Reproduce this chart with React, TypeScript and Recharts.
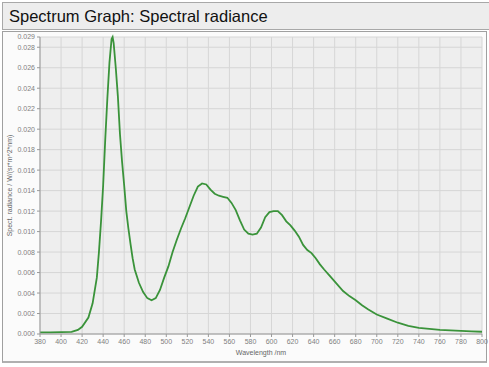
import React from 'react';
import { LineChart, Line, XAxis, YAxis, CartesianGrid } from 'recharts';

const wavelengths = [
  380, 390, 400, 410, 416, 420, 426, 430, 434, 436, 438, 440, 442, 444, 446, 448, 449, 450, 452, 454,
  456, 458, 460, 462, 464, 466, 468, 470, 474, 478, 482, 486, 490, 494, 498, 502, 506, 510, 514, 518,
  522, 526, 530, 534, 538, 542, 546, 550, 554, 558, 562, 566, 570, 574, 578, 582, 586, 590, 594, 598,
  602, 606, 610, 614, 618, 622, 626, 630, 634, 638, 642, 646, 650, 656, 662, 668, 674, 680, 686, 692,
  700, 710, 720, 730, 740, 750, 760, 770, 780, 790, 800,
];

const radiance = [
  0.00015, 0.00016, 0.00018, 0.0002, 0.0004, 0.0007, 0.0016, 0.003, 0.0055, 0.008, 0.011, 0.0145, 0.019, 0.023, 0.0265, 0.0288, 0.029, 0.0284, 0.026, 0.0232,
  0.0195, 0.0168, 0.0145, 0.012, 0.0103, 0.0088, 0.0074, 0.0063, 0.005, 0.0041, 0.0035, 0.0033, 0.0035, 0.0043, 0.0055, 0.0066, 0.008, 0.0092, 0.0103, 0.0113,
  0.0124, 0.0135, 0.0144, 0.0147, 0.0146, 0.0141, 0.0137, 0.0135, 0.0134, 0.0133, 0.0128, 0.0121, 0.0111, 0.0102, 0.0098, 0.0097, 0.0098, 0.0104, 0.0114, 0.0119,
  0.012, 0.012, 0.0116, 0.011, 0.0106, 0.0101, 0.0095, 0.0087, 0.0082, 0.0079, 0.0074, 0.0068, 0.0063, 0.0056, 0.0049, 0.0042, 0.0037, 0.0033, 0.0028, 0.0024,
  0.0019, 0.0015, 0.0011, 0.0008, 0.0006, 0.0005, 0.0004, 0.00035, 0.0003, 0.00025, 0.00022,
];

const xTicks = [380, 400, 420, 440, 460, 480, 500, 520, 540, 560, 580, 600, 620, 640, 660, 680, 700, 720, 740, 760, 780, 800];
const yTicks = [0, 0.002, 0.004, 0.006, 0.008, 0.01, 0.012, 0.014, 0.016, 0.018, 0.02, 0.022, 0.024, 0.026, 0.028, 0.029];

const data = wavelengths.map((w, i) => ({ w, v: radiance[i] }));

const font = '"Liberation Sans", Arial, sans-serif';
const tickStyle = { fontSize: 7, fill: '#808080', fontFamily: font };

export default function App() {
  return (
    <div style={{ position: 'absolute', left: 0, top: 0, width: 489, height: 367, background: '#fff', fontFamily: font }}>
      <div
        style={{
          position: 'absolute', left: 2, top: 2, width: 483, height: 26,
          background: '#ededed', border: '1px solid #a8a8a8',
          fontSize: 16.5, lineHeight: '26px', paddingLeft: 6, boxSizing: 'content-box', color: '#111',
        }}
      >
        Spectrum Graph: Spectral radiance
      </div>
      <div
        style={{
          position: 'absolute', left: 2, top: 31, width: 483, height: 329,
          background: '#fbfbfb', border: '1px solid #a0a0a0', borderBottom: '2px solid #b0b0b0',
        }}
      />
      <div style={{ position: 'absolute', left: 0, top: 0 }}>
        <LineChart width={489} height={367} data={data} margin={{ top: 37, right: 7, bottom: 0, left: 0 }}>
          <CartesianGrid stroke="#d6d6d6" fill="#eeeeee" strokeWidth={1} />
          <XAxis
            dataKey="w"
            type="number"
            domain={[380, 800]}
            ticks={xTicks}
            interval={0}
            height={33}
            tick={tickStyle}
            tickSize={3}
            axisLine={{ stroke: '#999' }}
            tickLine={{ stroke: '#999' }}
            label={{ value: 'Wavelength /nm', position: 'insideBottom', offset: 12, style: { fontSize: 7, fill: '#666', fontFamily: font } }}
          />
          <YAxis
            type="number"
            domain={[0, 0.029]}
            ticks={yTicks}
            interval={0}
            width={40}
            tick={tickStyle}
            tickSize={3}
            tickFormatter={(v: number) => v.toFixed(3)}
            axisLine={{ stroke: '#999' }}
            tickLine={{ stroke: '#999' }}
            label={{ value: 'Spect. radiance / W/(sr*m^2*nm)', angle: -90, position: 'insideLeft', offset: 10, style: { fontSize: 7, fill: '#666', fontFamily: font, textAnchor: 'middle' } }}
          />
          <Line
            type="linear"
            dataKey="v"
            stroke="#3a933a"
            strokeWidth={1.8}
            dot={false}
            isAnimationActive={false}
          />
        </LineChart>
      </div>
    </div>
  );
}
